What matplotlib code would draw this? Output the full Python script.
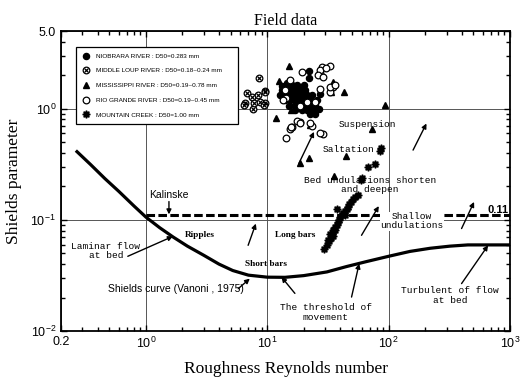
import matplotlib
matplotlib.use('Agg')
import matplotlib.pyplot as plt
from matplotlib.ticker import FixedLocator, FixedFormatter, LogLocator, NullFormatter
from matplotlib.legend_handler import HandlerTuple

SERIF = ['Liberation Serif', 'DejaVu Serif']
SANS = ['Liberation Sans', 'DejaVu Sans']
MONO = ['Liberation Mono', 'DejaVu Sans Mono']
plt.rcParams['font.family'] = SANS

# ---------------- data ----------------
shields_x = [0.265, 0.35, 0.46, 0.6, 0.8, 1.0, 1.3, 1.68, 2.2, 3.0, 4.0, 5.2, 7.0, 10, 14,
             20, 31, 45, 65, 100, 150, 220, 320, 450, 1000]
shields_y = [0.42, 0.315, 0.235, 0.18, 0.133, 0.106, 0.085, 0.070, 0.058, 0.048, 0.040, 0.035,
             0.0318, 0.0305, 0.0304, 0.0315, 0.034, 0.038, 0.042, 0.047, 0.052, 0.0555, 0.058,
             0.0595, 0.0595]

kalinske_x = [1.0, 1000]
kalinske_y = [0.11, 0.11]

niob_x = [12.7, 13.2, 13.9, 13.9, 14.5, 15.3, 15.3, 15.3, 16.0, 16.8, 16.8, 16.8, 17.5, 17.5,
          18.5, 18.5, 18.5, 19.4, 19.4, 20.3, 20.3, 20.3, 21.3, 21.3, 22.4, 22.4, 22.4, 23.5,
          23.5, 24.6, 24.6, 25.8, 22.0, 22.0, 14.5, 13.2, 16.0, 20.0, 17.0, 26.5, 15.0, 27.0]
niob_y = [1.33, 1.47, 1.2, 1.5, 1.33, 1.47, 1.2, 1.63, 1.33, 1.47, 1.2, 1.08, 1.63, 1.33,
          1.47, 1.2, 1.08, 0.97, 1.33, 1.2, 1.08, 1.47, 0.97, 1.33, 1.08, 0.9, 1.2, 1.0,
          1.33, 1.1, 0.9, 1.2, 2.2, 1.87, 1.7, 1.6, 1.63, 1.65, 0.97, 1.0, 1.05, 1.35]

mloup_x = [8.6, 9.5, 6.75, 7.55, 8.4, 9.55, 9.55, 7.65, 6.5, 7.75, 8.7, 6.4, 9.4]
mloup_y = [1.9, 1.45, 1.37, 1.28, 1.32, 1.42, 1.12, 1.0, 1.12, 1.13, 1.16, 1.09, 1.08]

miss_x = [15.1, 34.9, 42.8, 92.5, 72.3, 44.2, 35.4, 21.9, 18.6, 12.5, 11.8, 15.8, 22.5, 33.6]
miss_y = [2.43, 1.75, 1.40, 1.08, 0.65, 0.374, 0.248, 0.357, 0.328, 1.77, 0.83, 0.97, 0.71, 1.42]

rio_x = [32.8, 28.0, 27.0, 34.9, 33.0, 18.6, 15.3, 14.2, 23.6, 28.6, 16.0, 17.5, 19.2, 27.1,
         30.4, 26.2, 32.8, 36.0, 27.1, 15.3, 14.4, 13.9, 18.5, 24.6, 15.8, 18.5, 22.4, 27.1,
         28.8, 21.2, 13.5]
rio_y = [2.43, 2.35, 2.08, 1.57, 1.42, 0.76, 0.66, 0.55, 0.70, 0.59, 0.68, 0.78, 2.15, 2.23,
         2.3, 2.0, 1.57, 1.63, 1.51, 1.81, 1.24, 1.47, 1.05, 1.15, 0.69, 0.74, 0.74, 0.61,
         1.94, 1.16, 1.19]

mc_x = [29.4, 31.0, 31.5, 32.5, 33.0, 33.5, 34.5, 34.9, 35.0, 36.0, 36.5, 37.5, 38.0, 39.0,
        40.0, 37.3, 41.0, 42.0, 43.6, 44.0, 45.0, 46.0, 47.5, 49.0, 51.0, 53.0, 56.0, 58.7,
        60.0, 67.5, 77.0, 84.7, 86.0]
mc_y = [0.055, 0.060, 0.066, 0.064, 0.075, 0.068, 0.072, 0.0806, 0.077, 0.081, 0.086, 0.090,
        0.095, 0.100, 0.105, 0.124, 0.110, 0.115, 0.110, 0.120, 0.126, 0.130, 0.138, 0.145,
        0.155, 0.160, 0.167, 0.227, 0.240, 0.300, 0.321, 0.420, 0.440]

legend_labels = ['NIOBRARA RIVER : D50=0.283 mm',
                 'MIDDLE LOUP RIVER : D50=0.18~0.24 mm',
                 'MISSISSIPPI RIVER : D50=0.19~0.78 mm',
                 'RIO GRANDE RIVER : D50=0.19~0.45 mm',
                 'MOUNTAIN CREEK : D50=1.00 mm']

x_ticks = [0.2, 1, 10, 100, 1000]
x_ticklabels = ['0.2', r'$\mathregular{10^{0}}$', r'$\mathregular{10^{1}}$',
                r'$\mathregular{10^{2}}$', r'$\mathregular{10^{3}}$']
y_ticks = [0.01, 0.1, 1, 5]
y_ticklabels = [r'$\mathregular{10^{-2}}$', r'$\mathregular{10^{-1}}$',
                r'$\mathregular{10^{0}}$', '5.0']

# ---------------- figure ----------------
fig = plt.figure(figsize=(5.2, 3.84), dpi=100)
ax = fig.add_axes([61/520, 1 - 331/384, 449/520, 300/384])
ax.set_xscale('log')
ax.set_yscale('log')
ax.set_xlim(0.2, 1000)
ax.set_ylim(0.01, 5)

ax.xaxis.set_major_locator(FixedLocator(x_ticks))
ax.xaxis.set_major_formatter(FixedFormatter(x_ticklabels))
ax.yaxis.set_major_locator(FixedLocator(y_ticks))
ax.yaxis.set_major_formatter(FixedFormatter(y_ticklabels))
ax.xaxis.set_minor_locator(LogLocator(base=10, subs=range(2, 10)))
ax.yaxis.set_minor_locator(LogLocator(base=10, subs=range(2, 10)))
ax.xaxis.set_minor_formatter(NullFormatter())
ax.yaxis.set_minor_formatter(NullFormatter())
ax.tick_params(which='both', direction='in', top=True, right=True, width=1.0,
               labelsize=9)
ax.tick_params(which='major', length=4)
ax.tick_params(which='minor', length=3)
for lab in ax.get_xticklabels() + ax.get_yticklabels():
    lab.set_family(SANS)
for s in ax.spines.values():
    s.set_linewidth(1.3)

ax.grid(True, which='major', color='#555555', linewidth=0.7)

# curves
ax.plot(shields_x, shields_y, color='black', lw=2.3, solid_capstyle='butt', zorder=3)
ax.plot(kalinske_x, kalinske_y, color='black', lw=2.2, dashes=(2.8, 1.1), zorder=3)

# field data
h_niob, = ax.plot(niob_x, niob_y, 'o', color='black', ms=4.4, ls='none', zorder=4)
h_ml1, = ax.plot(mloup_x, mloup_y, 'o', mfc='white', mec='black', mew=0.9, ms=4.8,
                 ls='none', zorder=4)
h_ml2, = ax.plot(mloup_x, mloup_y, 'x', color='black', mew=0.9, ms=2.8, ls='none', zorder=4)
h_miss, = ax.plot(miss_x, miss_y, '^', color='black', ms=4.0, ls='none', zorder=4)
h_rio, = ax.plot(rio_x, rio_y, 'o', mfc='white', mec='black', mew=0.9, ms=4.8, ls='none',
                 zorder=5)
h_mc, = ax.plot(mc_x, mc_y, marker=(8, 1, 0), color='black', ms=5.5, ls='none', zorder=4)

leg = ax.legend([h_niob, (h_ml1, h_ml2), h_miss, h_rio, h_mc], legend_labels,
                handler_map={tuple: HandlerTuple(ndivide=1)},
                loc='upper left', bbox_to_anchor=(0.0334, 0.677, 0.361, 0.27),
                mode='expand', prop={'family': SANS, 'size': 4.6}, frameon=True,
                fancybox=False, edgecolor='black', framealpha=1, borderpad=1.0,
                labelspacing=1.45, handlelength=1.0, handletextpad=1.2,
                borderaxespad=0)
leg.get_frame().set_linewidth(0.9)
leg.set_zorder(6)

# text annotations
mono = dict(family=MONO, size=6.8, ha='center', va='center', zorder=6)
ax.text(67.4, 0.726, 'Suspension', **mono)
ax.text(47, 0.43, 'Saltation', **mono)
ax.text(70, 0.205, 'Bed undulations shorten\nand deepen', linespacing=1.05, **mono)
ax.text(155, 0.097, 'Shallow\nundulations', linespacing=1.05,
        bbox=dict(facecolor='white', edgecolor='none', pad=0.3), **mono)
ax.text(0.469, 0.0521, 'Laminar flow\nat bed', linespacing=1.05, **mono)
ax.text(319, 0.0209, 'Turbulent of flow\nat bed', linespacing=1.05, **mono)
ax.text(30.3, 0.0147, 'The threshold of\nmovement', linespacing=1.05, **mono)

serifb = dict(family=SERIF, size=6.7, weight='bold', ha='center', va='center', zorder=6)
ax.text(2.78, 0.0727, 'Ripples', **serifb)
ax.text(16.9, 0.0737, 'Long bars', **serifb)
ax.text(9.7, 0.0404, 'Short bars', **serifb)

ax.text(1.55, 0.166, 'Kalinske', family=SANS, size=7.5, ha='center', va='center')
ax.text(1.77, 0.0237, 'Shields curve (Vanoni , 1975)', family=SANS, size=7.5,
        ha='center', va='center')
ax.text(800, 0.123, '0.11', family=SANS, size=8, weight='bold', ha='center', va='center')

arrows = [
    ((0.71, 0.047), (1.67, 0.071)),
    ((1.55, 0.146), (1.55, 0.112)),
    ((5.76, 0.024), (7.19, 0.0296)),
    ((16.9, 0.0218), (13.1, 0.0306)),
    ((49.5, 0.0202), (57.2, 0.0404)),
    ((399, 0.0267), (660, 0.059)),
    ((6.96, 0.059), (8.06, 0.0925)),
    ((18.2, 0.321), (24.3, 0.619)),
    ((159, 0.424), (205, 0.736)),
    ((59.8, 0.0726), (83, 0.133)),
    ((399, 0.0835), (506, 0.145)),
]
for tail, head in arrows:
    ax.annotate('', xy=head, xytext=tail,
                arrowprops=dict(arrowstyle='-|>', color='black', lw=1.0,
                                mutation_scale=7, shrinkA=0, shrinkB=0), zorder=6)

ax.set_title('Field data', family=SERIF, size=11.5, pad=4)
ax.set_xlabel('Roughness Reynolds number', family=SERIF, size=12.5, labelpad=7)
ax.set_ylabel('Shields parameter', family=SERIF, size=12.5, labelpad=6)

fig.savefig('out.png', dpi=100)
